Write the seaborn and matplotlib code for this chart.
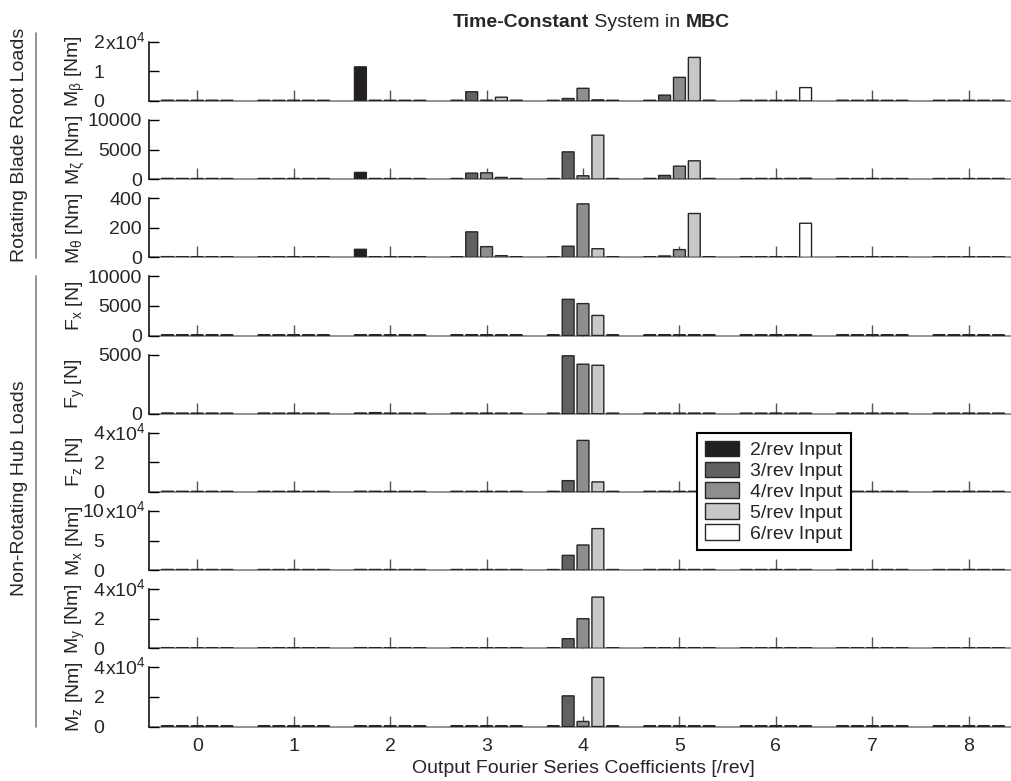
import numpy as np
import pandas as pd
import matplotlib
matplotlib.use("Agg")
import matplotlib.pyplot as plt
from matplotlib.patches import Patch
from matplotlib.lines import Line2D
import seaborn as sns

# Output Fourier coefficients [/rev] and the input harmonics (one hue each)
coefficients = list(range(9))
inputs = ["2/rev Input", "3/rev Input", "4/rev Input", "5/rev Input", "6/rev Input"]
colors = ["#231f20", "#616161", "#8e8e8e", "#c8c8c9", "#ffffff"]

# Amplitudes: one row per input harmonic (2..6/rev), one column per coefficient 0..8
M_beta = [
    [240, 220, 11500, 230, 210, 220, 200, 230, 210],
    [220, 210, 230, 3100, 800, 1950, 220, 210, 230],
    [210, 230, 210, 250, 4250, 7950, 210, 230, 210],
    [230, 210, 220, 1250, 350, 14700, 230, 210, 220],
    [210, 220, 210, 230, 210, 230, 4500, 210, 230],
]
M_zeta = [
    [120, 110, 1130, 110, 100, 110, 100, 110, 100],
    [110, 100, 110, 1010, 4600, 620, 110, 100, 110],
    [100, 110, 100, 1060, 560, 2190, 100, 110, 100],
    [110, 100, 110, 280, 7420, 3090, 110, 100, 110],
    [100, 110, 100, 110, 100, 110, 150, 100, 110],
]
M_theta = [
    [4.5, 4, 54, 4, 3.5, 4, 3.5, 4, 3.5],
    [4, 3.5, 4, 172, 75, 9, 4, 3.5, 4],
    [3.5, 4, 3.5, 72, 361, 52, 3.5, 4, 3.5],
    [4, 3.5, 4, 11, 58, 296, 4, 3.5, 4],
    [3.5, 4, 3.5, 4, 3.5, 4, 230, 3.5, 4],
]
F_x = [
    [120, 110, 120, 110, 100, 110, 100, 110, 100],
    [110, 100, 110, 120, 6110, 110, 100, 110, 100],
    [100, 110, 100, 110, 5390, 100, 110, 100, 110],
    [110, 100, 110, 100, 3390, 110, 100, 110, 100],
    [100, 110, 100, 110, 100, 110, 100, 110, 100],
]
F_y = [
    [60, 55, 60, 55, 50, 55, 50, 55, 50],
    [55, 50, 90, 55, 4890, 55, 50, 55, 50],
    [50, 55, 50, 55, 4180, 50, 55, 50, 55],
    [55, 50, 55, 50, 4090, 55, 50, 55, 50],
    [50, 55, 50, 55, 50, 55, 50, 55, 50],
]
F_z = [
    [450, 420, 450, 420, 400, 420, 400, 420, 400],
    [420, 400, 420, 400, 7600, 420, 400, 420, 400],
    [400, 420, 400, 420, 34800, 400, 420, 400, 420],
    [420, 400, 420, 400, 6750, 420, 400, 420, 400],
    [400, 420, 400, 420, 400, 420, 400, 420, 400],
]
M_x = [
    [1100, 1050, 1100, 1050, 1000, 1050, 1000, 1050, 1000],
    [1050, 1000, 1050, 1000, 24900, 1050, 1000, 1050, 1000],
    [1000, 1050, 1000, 1050, 42400, 1000, 1050, 1000, 1050],
    [1050, 1000, 1050, 1000, 70100, 1050, 1000, 1050, 1000],
    [1000, 1050, 1000, 1050, 1000, 1050, 1000, 1050, 1000],
]
M_y = [
    [450, 420, 450, 420, 400, 420, 400, 420, 400],
    [420, 400, 420, 400, 6500, 420, 400, 420, 400],
    [400, 420, 400, 420, 20000, 400, 420, 400, 420],
    [420, 400, 420, 400, 34600, 420, 400, 420, 400],
    [400, 420, 400, 420, 400, 420, 400, 420, 400],
]
M_z = [
    [450, 420, 450, 420, 400, 420, 400, 420, 400],
    [420, 400, 420, 400, 20700, 420, 400, 420, 400],
    [400, 420, 400, 420, 3400, 400, 420, 400, 420],
    [420, 400, 420, 400, 33200, 420, 400, 420, 400],
    [400, 420, 400, 420, 400, 420, 400, 420, 400],
]

# Panel setup: (y label, data, y ticks, tick labels, power-of-ten suffix)
panels = [
    (r"M$_\beta$ [Nm]", M_beta, [0, 10000, 20000], ["0", "1", "2"], r"x10$^4$"),
    (r"M$_\zeta$ [Nm]", M_zeta, [0, 5000, 10000], ["0", "5000", "10000"], None),
    (r"M$_\theta$ [Nm]", M_theta, [0, 200, 400], ["0", "200", "400"], None),
    (r"F$_\mathrm{x}$ [N]", F_x, [0, 5000, 10000], ["0", "5000", "10000"], None),
    (r"F$_\mathrm{y}$ [N]", F_y, [0, 5000], ["0", "5000"], None),
    (r"F$_\mathrm{z}$ [N]", F_z, [0, 20000, 40000], ["0", "2", "4"], r"x10$^4$"),
    (r"M$_\mathrm{x}$ [Nm]", M_x, [0, 50000, 100000], ["0", "5", "10"], r"x10$^4$"),
    (r"M$_\mathrm{y}$ [Nm]", M_y, [0, 20000, 40000], ["0", "2", "4"], r"x10$^4$"),
    (r"M$_\mathrm{z}$ [Nm]", M_z, [0, 20000, 40000], ["0", "2", "4"], r"x10$^4$"),
]

sns.set_style("ticks")
plt.rcParams["font.family"] = ["Liberation Sans", "DejaVu Sans"]
plt.rcParams["mathtext.fontset"] = "custom"
plt.rcParams["mathtext.rm"] = "Liberation Sans"
plt.rcParams["mathtext.it"] = "Liberation Sans:italic"
plt.rcParams["mathtext.bf"] = "Liberation Sans:bold"
plt.rcParams["mathtext.default"] = "regular"
plt.rcParams["xtick.direction"] = "in"
plt.rcParams["ytick.direction"] = "in"

FS = 14
W, H = 1012, 781
fig = plt.figure(figsize=(W / 100, H / 100), dpi=100)

left_px, right_px = 149, 1017
top0, pitch, height = 41.7, 78.2, 59.2

axes = []
for i, (ylab, data, yticks, ylabels, suffix) in enumerate(panels):
    top = top0 + pitch * i
    ax = fig.add_axes([left_px / W, 1 - (top + height) / H,
                       (right_px - left_px) / W, height / H])
    axes.append(ax)
    df = pd.DataFrame({
        "coef": np.tile(coefficients, len(inputs)),
        "input": np.repeat(inputs, len(coefficients)),
        "value": np.ravel(data),
    })
    sns.barplot(data=df, x="coef", y="value", hue="input", order=coefficients,
                hue_order=inputs, palette=colors, saturation=1, width=0.77,
                gap=0.2, edgecolor="#262626", linewidth=1.0, errorbar=None,
                legend=False, ax=ax)
    for bar in ax.patches:
        bar.set_snap(False)
    ax.set_xlim(-0.5, 8.5)
    ax.set_ylim(0, yticks[-1])
    ax.set_xticks(coefficients)
    ax.set_yticks(yticks)
    ax.set_yticklabels(ylabels, fontsize=FS)
    sns.despine(ax=ax, top=True, right=True)
    ax.spines["left"].set_color("black")
    ax.spines["left"].set_linewidth(1.1)
    ax.spines["bottom"].set_color("#8a8a8a")
    ax.spines["bottom"].set_linewidth(1.3)
    ax.spines["bottom"].set_zorder(0.5)
    ax.tick_params(axis="x", length=8, width=1, color="#555555")
    ax.tick_params(axis="y", length=7, width=1, color="black")
    if suffix:
        ax.tick_params(axis="y", pad=32)
        ax.text(-0.0505, 1.0, suffix, transform=ax.transAxes, ha="left",
                va="center", fontsize=FS)
    else:
        ax.tick_params(axis="y", pad=5)
    ax.set_ylabel(ylab, fontsize=FS, va="top")
    ax.yaxis.set_label_coords((64 - left_px) / (right_px - left_px), 0.5)
    ax.set_xlabel("")
    if i < len(panels) - 1:
        ax.set_xticklabels([])
    else:
        ax.set_xticklabels([str(c) for c in coefficients], fontsize=FS)
        ax.tick_params(axis="x", pad=8)
        ax.set_xlabel("Output Fourier Series Coefficients [/rev]", fontsize=FS,
                      labelpad=4)

# Title with bold key words
t1 = fig.text(453 / W, 1 - 27 / H, "Time-Constant", fontsize=FS,
              fontweight="bold", va="baseline", ha="left")
t2 = axes[0].annotate(" System in ", xy=(1, 0), xycoords=t1, fontsize=FS,
                      va="bottom", ha="left", annotation_clip=False)
axes[0].annotate("MBC", xy=(1, 0), xycoords=t2, fontsize=FS,
                 fontweight="bold", va="bottom", ha="left",
                 annotation_clip=False)

# Group labels with separator lines
fig.text(20 / W, 1 - 145 / H, "Rotating Blade Root Loads", rotation=90,
         ha="center", va="center", fontsize=FS)
fig.text(20 / W, 1 - 488 / H, "Non-Rotating Hub Loads", rotation=90,
         ha="center", va="center", fontsize=FS)
fig.add_artist(Line2D([36.5 / W, 36.5 / W], [1 - 33 / H, 1 - 258 / H],
                      color="#808080", lw=1.2))
fig.add_artist(Line2D([36.5 / W, 36.5 / W], [1 - 276 / H, 1 - 727 / H],
                      color="#808080", lw=1.2))

# Legend
handles = [Patch(facecolor=c, edgecolor="#262626", linewidth=1.0) for c in colors]
leg = fig.legend(handles, inputs, loc="upper left",
                 bbox_to_anchor=(697 / W, 1 - 433 / H), fontsize=FS,
                 frameon=True, fancybox=False, framealpha=1,
                 edgecolor="black", borderaxespad=0, borderpad=0.4,
                 handlelength=1.75, handleheight=0.85, handletextpad=0.6,
                 labelspacing=0.12)
leg.get_frame().set_linewidth(1.5)

fig.savefig("out.png", dpi=100)
